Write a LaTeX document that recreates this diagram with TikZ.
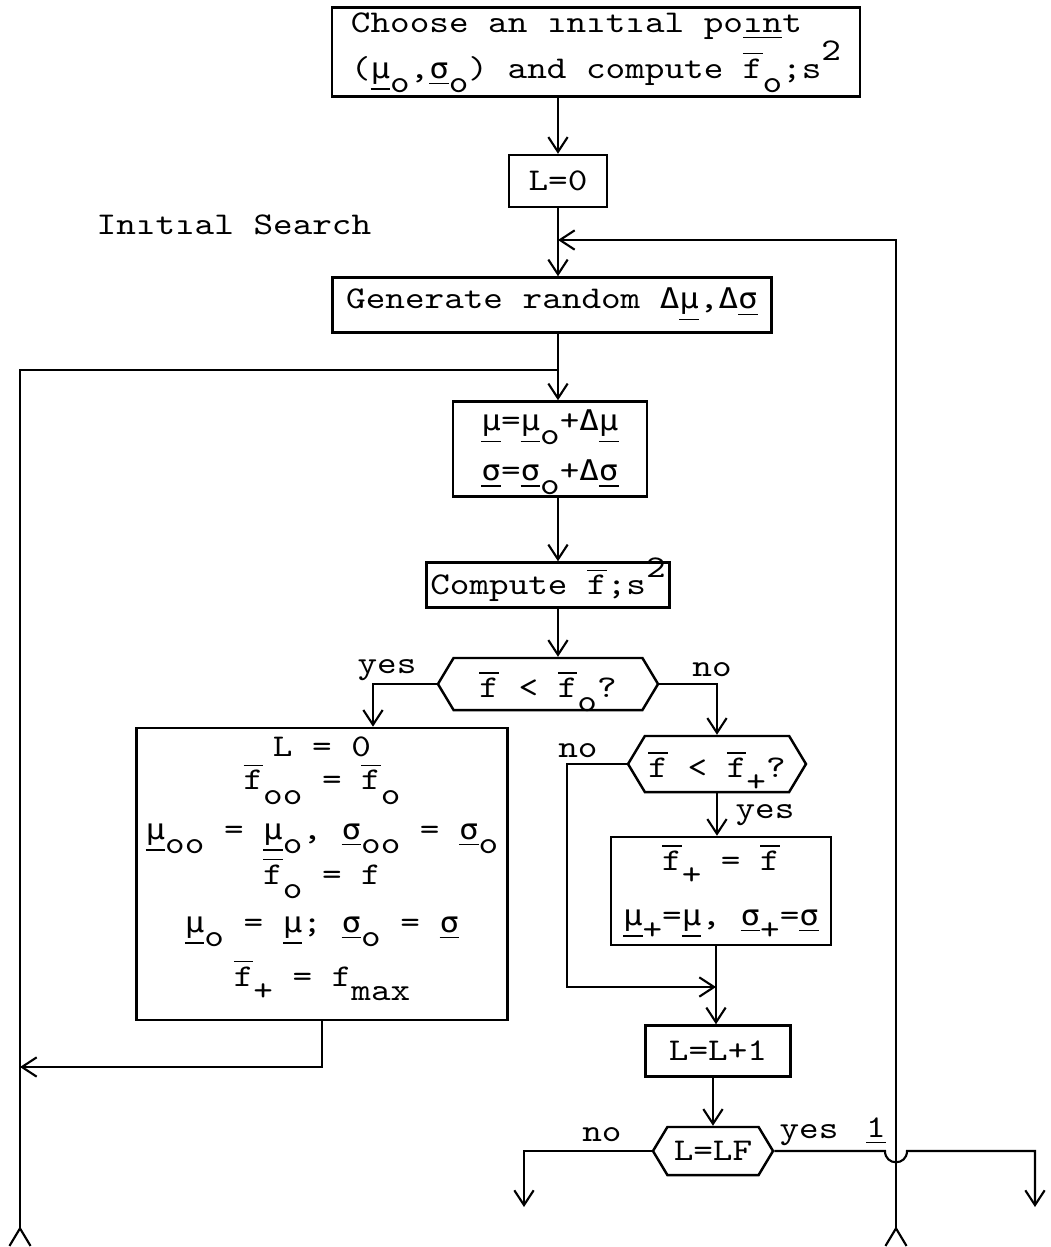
\documentclass[tikz,border=0pt]{standalone}
\usepackage{fontspec}
\newfontfamily\tw[FakeStretch=1.18]{lmmono10-regular.otf}
\newfontfamily\grk[Scale=0.9,FakeStretch=1.14]{DejaVu Sans Mono}
\usetikzlibrary{arrows.meta, shapes.symbols, calc}
\newcommand{\fb}{\ensuremath{\overline{\mbox{f}}}}
\newcommand{\mub}{\underline{\grk µ}}
\newcommand{\sgb}{\underline{\grk σ}}
\newcommand{\dlt}{{\grk Δ}}
\newcommand{\lo}[1]{\raisebox{-0.45em}[0pt][0pt]{#1}}
\newcommand{\hi}[1]{\raisebox{0.55em}[0pt][0pt]{#1}}

\begin{document}
\begin{tikzpicture}[
    x=0.01cm, y=-0.01cm,
    every node/.style={font=\tw\fontsize{9}{12}\selectfont},
    box/.style={rectangle, draw, line width=0.7pt, inner sep=0pt},
    decide/.style={signal, signal to=west and east, signal pointer angle=118,
        draw, line width=0.7pt, inner xsep=1pt, inner ysep=0pt},
    lbl/.style={inner sep=0pt},
    arr/.style={line width=0.6pt, -{Straight Barb[length=4.2pt,width=5.5pt]}},
    botline/.style={line width=0.6pt, {Straight Barb[reversed,length=5pt,width=6pt]}-},
    botarr/.style={line width=0.6pt,
        {Straight Barb[reversed,length=5pt,width=6pt]}-{Straight Barb[length=4.2pt,width=5.5pt]}}
]
\useasboundingbox (0,0) rectangle (1050,1247);

% flow columns and free ends
\coordinate (colA) at (558,0);
\coordinate (colB) at (716,0);
\coordinate (yescol) at (373,0);
\coordinate (nocol) at (567,0);
\coordinate (hop) at (896,0);
\coordinate (loopbot) at (896,1247);
\coordinate (loopjoin) at (558,240);
\coordinate (leftbot) at (20,1247);
\coordinate (leftjoin) at (558,370);
\coordinate (leftret) at (20,1067);
\coordinate (merge) at (716,987);
\coordinate (exitno) at (524,1207);
\coordinate (exityes) at (1035,1207);

% start
\node[box, minimum width=5.28cm, minimum height=0.89cm, align=left] (start) at (596,52)
    {Choose an ınıtıal po\underline{ın}t\\[1pt](\mub\lo{o},\sgb\lo{o}) and compute \fb\lo{o};s\hi{2}};
\node[box, minimum width=0.98cm, minimum height=0.52cm] (L0) at (558,181) {L=0};
\node[lbl, anchor=west] (search) at (96,225) {Inıtıal Search};

% random step
\node[box, minimum width=4.39cm, minimum height=0.55cm] (gen) at (552,305)
    {Generate random \dlt\mub,\dlt\sgb};
\node[box, minimum width=1.94cm, minimum height=0.95cm, align=left] (upd) at (550,449)
    {\mub=\mub\lo{o}+\dlt\mub\\[2.2pt]\sgb=\sgb\lo{o}+\dlt\sgb};
\node[box, minimum width=2.43cm, minimum height=0.45cm] (comp) at (548,585)
    {Compute \fb;s\hi{2}};

% first test
\node[decide, minimum width=2.2cm, minimum height=0.52cm] (dec1) at (548,684)
    {\fb{} < \fb\lo{o}?};
\node[lbl] (yes1) at (387,670) {yes};
\node[lbl] (no1) at (712,670) {no};

% new base point
\node[box, minimum width=3.71cm, minimum height=2.92cm, align=center] (big) at (322,874)
    {L = 0\\[-2.6pt]
     \fb\lo{oo} = \fb\lo{o}\\[2pt]
     \mub\lo{oo} = \mub\lo{o}, \sgb\lo{oo} = \sgb\lo{o}\\[0.8pt]
     \fb\lo{o} = f\\[1.6pt]
     \mub\lo{o} = \mub; \sgb\lo{o} = \sgb\\[3.4pt]
     \fb\lo{+} = f\lo{max}\\[-5pt]\mbox{}};

% second test
\node[decide, minimum width=1.7cm, minimum height=0.56cm] (dec2) at (717,764)
    {\fb{} < \fb\lo{+}?};
\node[lbl] (no2) at (578,751) {no};
\node[lbl] (yes2) at (765,815) {yes};
\node[box, minimum width=2.2cm, minimum height=1.08cm, align=center] (fplus) at (721,891)
    {\fb\lo{+} = \fb\\[3.6pt]\mub\lo{+}=\mub, \sgb\lo{+}=\sgb};

% counter
\node[box, minimum width=1.45cm, minimum height=0.51cm] (inc) at (718,1051) {L=L+1};
\node[decide, minimum width=1.2cm, minimum height=0.48cm] (dec3) at (713,1151) {L=LF};
\node[lbl] (no3) at (602,1135) {no};
\node[lbl] (yes3) at (809,1135) {yes};
\node[lbl] (one) at (876,1131) {\underline{1}};

% main line
\draw[arr] (start.south -| colA) -- (L0.north);
\draw[arr] (L0.south) -- (gen.north -| L0);
\draw[arr] (gen.south -| colA) -- (upd.north -| colA);
\draw[arr] (upd.south -| colA) -- (comp.north -| colA);
\draw[arr] (comp.south -| colA) -- (dec1.north -| colA);

% returns from below
\draw[botarr] (loopbot) |- (loopjoin);
\draw[botline] (leftbot) |- (leftjoin);

% branches of the first test
\draw[arr] (dec1.west) -| (big.north -| yescol);
\draw[arr] (dec1.east) -| (dec2.north);
\draw[arr] (big.south) |- (leftret);

% branches of the second test
\draw[arr] (dec2.south) -- (fplus.north -| dec2);
\draw[arr] (dec2.west) -| (dec2.west -| nocol) |- (merge);
\draw[arr] (fplus.south -| colB) -- (inc.north -| colB);

% exits
\draw[arr] (inc.south -| dec3) -- (dec3.north);
\draw[arr] (dec3.west) -| (exitno);
\draw[arr] (dec3.east) -- ($(dec3.east -| hop)+(-11,0)$)
    .. controls +(0,15) and +(0,15) .. ($(dec3.east -| hop)+(11,0)$) -| (exityes);

\end{tikzpicture}
\end{document}
